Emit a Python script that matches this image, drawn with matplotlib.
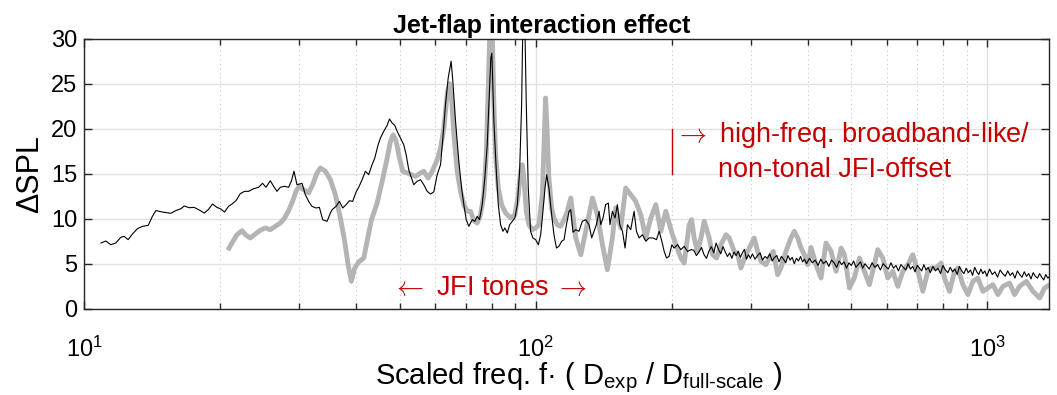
import numpy as np
import matplotlib
matplotlib.use('Agg')
import matplotlib.pyplot as plt
from matplotlib.ticker import MultipleLocator

plt.rcParams['font.family'] = ['Liberation Sans', 'DejaVu Sans']
plt.rcParams['mathtext.fontset'] = 'custom'
plt.rcParams['mathtext.rm'] = 'Liberation Sans'
plt.rcParams['mathtext.it'] = 'Liberation Sans:italic'
plt.rcParams['mathtext.bf'] = 'Liberation Sans:bold'

# thin black curve (measured), tonal part
f_meas_lo = [10.9, 11.17, 11.46, 11.76, 12.06, 12.27, 12.52, 12.8, 13.13, 13.47,
             13.87, 14.17, 14.42, 14.92, 15.57, 15.97, 16.39, 16.67, 17.1, 17.53,
             17.99, 18.46, 18.84, 19.25, 19.69, 20.03, 20.47, 20.89, 21.26, 21.7,
             22.18, 22.67, 23.14, 23.74, 24.35, 24.85, 25.29, 25.85, 26.29, 26.75,
             27.2, 27.81, 28.38, 28.77, 29.17, 29.62, 30.39, 30.9, 31.43, 31.98,
             32.64, 33.2, 33.77, 34.53, 35.12, 35.42, 36.15, 36.77, 37.4, 38.05,
             38.7, 39.35, 40.04, 40.57, 41.28, 41.98, 42.69, 43.3, 44.03, 44.8,
             45.33, 46.1, 46.91, 47.46, 48.12, 48.75, 49.36, 50.19, 51.05, 51.68,
             52.36, 53.09, 53.72, 54.66, 55.59, 56.53, 57.53, 58.5, 59.49, 60.54,
             61.58, 62.31, 63.15, 64.03, 65.0, 65.57, 66.47, 67.6, 68.55, 69.34,
             70.2, 71.14, 72.38, 73.35, 74.24, 75.12, 76.16, 77.18, 78.13, 78.78,
             79.58, 80.0, 80.83, 81.84, 82.67, 83.65, 84.63, 85.5, 86.55, 87.59,
             88.79, 89.98, 91.09, 92.16, 93.11, 93.7, 94.7, 95.35, 96.31, 97.46,
             98.6, 100.0, 101.4, 102.6, 103.8, 104.9, 105.8, 107.0, 108.5, 109.8,
             111.2, 112.6, 114.2, 115.6, 117.0, 118.6, 119.6, 121.0, 122.7, 124.7,
             126.9, 129.1, 131.3, 133.1, 134.7, 136.3, 138.2, 139.4, 141.0, 142.9,
             144.9, 146.1, 147.9, 149.9, 151.7, 153.6, 155.7, 157.8, 159.7, 162.4,
             165.2, 167.2, 169.5, 172.4, 175.4, 178.3, 182.0, 185.2, 187.7, 190.3,
             192.6, 194.9, 197.5, 200.3, 202.6, 206.2, 209.7, 213.3, 217.0, 220.8]
spl_meas_lo = [7.3, 7.52, 7.11, 7.3, 7.93, 8.04, 7.67, 8.3, 8.89, 9.15,
               9.26, 10.26, 10.9, 10.74, 10.6, 10.9, 11.11, 11.41, 11.22, 11.26,
               10.97, 10.63, 11.0, 11.63, 11.26, 11.11, 10.74, 11.37, 11.63, 12.0,
               12.78, 13.04, 13.04, 13.33, 13.49, 13.93, 13.49, 14.22, 13.6, 13.04,
               13.49, 13.6, 13.49, 14.16, 15.27, 13.78, 13.93, 12.67, 11.93, 11.37,
               11.19, 11.26, 9.89, 9.71, 10.63, 11.0, 11.37, 11.93, 11.19, 11.56,
               12.0, 11.93, 12.97, 13.49, 14.33, 15.27, 14.89, 15.82, 16.74, 18.22,
               18.97, 19.71, 20.38, 21.08, 20.63, 20.38, 19.71, 18.97, 18.22, 17.11,
               15.45, 14.52, 13.78, 14.16, 14.33, 13.78, 13.04, 12.74, 12.97, 14.89,
               16.0, 18.97, 22.67, 25.63, 27.5, 25.26, 20.82, 16.37, 13.41, 11.56,
               9.89, 9.15, 9.89, 9.71, 10.26, 9.89, 11.56, 14.52, 18.22, 22.67,
               27.86, 28.4, 20.82, 15.27, 11.56, 9.33, 8.6, 8.97, 8.41, 9.33,
               9.71, 10.08, 11.56, 15.27, 22.67, 32.0, 31.0, 22.67, 13.41, 8.6,
               7.86, 7.67, 7.11, 8.22, 10.82, 13.41, 14.89, 13.41, 10.45, 8.22,
               6.74, 6.93, 7.49, 7.67, 9.33, 10.82, 11.0, 8.5, 8.78, 8.6,
               9.71, 9.89, 9.33, 7.86, 8.6, 9.33, 10.82, 9.33, 10.08, 11.56,
               11.74, 9.33, 10.82, 10.08, 11.56, 9.33, 8.6, 6.74, 9.33, 8.78,
               10.82, 8.6, 7.86, 8.22, 7.49, 7.86, 7.86, 7.67, 8.6, 7.49,
               6.37, 5.63, 5.82, 7.11, 6.74, 7.11, 6.56, 6.93, 6.37, 6.56]

# thin black curve, high-frequency broadband part (noisy band)
f_meas_hi = [224, 227, 230, 233, 236, 239, 242, 245, 248, 251, 254, 257, 260,
             263, 266, 269, 272, 275, 278, 281, 284, 287, 290, 293, 296, 299,
             302, 306, 310, 314, 318, 322, 326, 330, 334, 338, 342, 346, 350,
             354, 358, 362, 366, 370, 374, 378, 382, 386, 390, 394, 398,
             404, 410, 416, 422, 428, 434, 440, 446, 452, 458, 464, 470, 476,
             482, 488, 494, 500, 506, 512, 518, 524, 530, 536, 542, 548,
             556, 564, 572, 580, 588, 596, 604, 612, 620, 628, 636, 644, 652,
             660, 668, 676, 684, 692, 700, 708, 716, 724, 732, 740, 748,
             758, 768, 778, 788, 798, 808, 818, 828, 838, 848, 858, 868, 878,
             888, 898, 908, 918, 928, 938, 948, 958, 968, 978, 988, 998,
             1012, 1026, 1040, 1054, 1068, 1082, 1096, 1110, 1124, 1138, 1152,
             1166, 1180, 1194, 1208, 1222, 1236, 1250, 1264, 1278, 1292, 1306,
             1320, 1334, 1348, 1362, 1376]
spl_meas_hi = [6.5, 5.9, 6.3, 6.8, 6.0, 5.6, 6.4, 6.9, 6.2, 7.3, 6.6, 6.1, 6.9,
               6.3, 5.8, 6.2, 5.6, 6.3, 5.9, 6.4, 5.7, 6.2, 6.6, 5.5, 6.0, 5.6,
               6.1, 5.5, 5.9, 6.2, 5.4, 5.8, 5.6, 6.1, 5.3, 5.7, 5.9, 5.2, 5.8,
               5.5, 5.1, 5.9, 5.4, 5.7, 5.0, 5.6, 5.3, 5.8, 5.2, 5.5, 5.0,
               5.6, 5.1, 5.4, 4.8, 5.5, 5.0, 5.3, 4.7, 5.4, 5.1, 4.6, 5.3, 4.9,
               5.2, 4.5, 5.1, 4.8, 5.3, 4.6, 4.9, 5.2, 4.5, 5.0, 4.7, 4.4,
               5.1, 4.6, 4.9, 4.3, 5.0, 4.7, 4.4, 5.1, 4.5, 4.8, 4.2, 4.9, 4.6,
               4.3, 5.0, 4.4, 4.7, 4.1, 4.8, 4.5, 4.2, 4.9, 4.3, 4.6, 4.0,
               4.7, 4.2, 4.5, 3.9, 4.8, 4.3, 4.0, 4.6, 4.1, 4.4, 3.8, 4.7, 4.2,
               3.9, 4.5, 4.0, 4.3, 3.7, 4.6, 4.1, 3.8, 4.4, 3.9, 4.2, 3.6,
               4.4, 3.8, 4.1, 3.5, 4.3, 3.9, 3.6, 4.2, 3.7, 4.0, 3.4,
               4.2, 3.8, 3.5, 4.1, 3.6, 3.9, 3.3, 4.0, 3.6, 3.4, 3.9,
               3.5, 3.2, 3.8, 3.4, 3.6]

# thick grey curve
f_ref = [20.82, 21.26, 21.81, 22.38, 22.84, 23.35, 23.95, 24.56, 25.2, 25.85,
         26.52, 27.2, 27.81, 28.38, 28.96, 29.47, 29.96, 30.63, 31.43, 32.08,
         32.81, 33.37, 34.24, 35.12, 36.02, 36.95, 37.78, 38.43, 39.08, 39.75,
         40.57, 41.63, 42.36, 43.3, 44.57, 45.73, 46.91, 47.71, 48.37, 49.11,
         49.94, 50.8, 51.95, 53.1, 54.2, 55.6, 56.53, 57.82, 59.02, 60.54,
         61.58, 62.64, 63.74, 64.5, 65.15, 65.91, 67.04, 68.2, 69.34, 70.56,
         71.77, 73.0, 74.24, 75.51, 76.8, 77.74, 78.54, 79.25, 80.17, 80.83,
         81.53, 82.67, 84.08, 85.81, 88.04, 89.98, 91.54, 92.63, 93.44, 94.2,
         95.35, 96.63, 98.3, 100.0, 101.7, 103.5, 104.5, 105.2, 105.9, 107.0,
         108.5, 109.8, 111.7, 113.6, 115.6, 117.5, 119.6, 122.7, 125.9, 129.1,
         133.6, 137.0, 140.6, 144.2, 147.9, 150.4, 154.3, 158.3, 162.4, 166.6,
         170.9, 175.4, 179.9, 184.6, 189.3, 194.2, 200.9, 209.7, 213.3, 218.8,
         221.5, 224.4, 228.3, 232.3, 236.2, 242.3, 246.5, 251.6, 257.2, 263.9,
         268.3, 275.3, 280.1, 284.8, 292.2, 299.8, 304.8, 310.2, 315.5, 323.6,
         329.1, 335.9, 343.5, 349.3, 358.4, 367.6, 373.9, 380.5, 387.0, 393.5,
         400.4, 407.2, 417.7, 428.5, 439.5, 451.0, 462.8, 474.8, 482.8, 495.3,
         507.8, 521.3, 534.5, 548.3, 562.5, 572.3, 587.1, 602.3, 617.9, 633.9,
         650.3, 667.1, 684.3, 702.0, 720.2, 738.8, 751.4, 770.9, 790.7, 804.2,
         825.0, 846.3, 860.9, 883.2, 906.1, 929.6, 953.7, 978.2, 1003.6, 1029.4,
         1056.1, 1083.4, 1120.6, 1149.6, 1179.3, 1220.4, 1262.8, 1306.2, 1340.0, 1374.6]
spl_ref = [6.49, 7.3, 8.22, 8.67, 8.16, 7.86, 8.3, 8.71, 8.97, 8.78,
           9.15, 9.52, 10.08, 10.89, 11.93, 13.04, 13.6, 13.22, 12.86, 13.78,
           15.08, 15.63, 15.27, 14.33, 12.67, 10.08, 7.49, 4.89, 3.04, 4.52,
           5.19, 5.63, 7.49, 9.89, 11.74, 14.16, 16.74, 18.6, 19.33, 18.6,
           16.74, 15.27, 15.08, 14.89, 14.71, 15.08, 15.27, 14.52, 15.27, 16.56,
           17.86, 20.08, 24.0, 25.0, 23.4, 19.33, 15.27, 13.04, 11.56, 10.82,
           10.82, 9.78, 9.52, 10.45, 12.67, 17.11, 24.52, 31.5, 30.5, 22.67,
           17.11, 13.41, 11.56, 10.63, 10.08, 10.45, 12.67, 15.27, 16.0, 14.52,
           10.82, 9.33, 8.78, 8.97, 9.33, 12.67, 18.97, 23.41, 20.45, 14.52,
           11.19, 10.08, 9.33, 9.15, 9.89, 10.8, 12.3, 7.86, 6.0, 8.6,
           12.3, 10.45, 7.11, 4.33, 7.86, 11.19, 8.97, 13.41, 12.67, 11.93,
           10.45, 7.86, 10.08, 11.56, 8.6, 10.82, 8.22, 5.63, 5.07, 9.33,
           9.9, 7.86, 6.37, 7.86, 9.71, 7.86, 6.0, 5.63, 7.11, 8.22,
           7.86, 6.37, 6.0, 4.52, 6.0, 7.11, 7.86, 6.37, 5.26, 4.89,
           5.63, 6.37, 3.78, 4.52, 6.37, 7.86, 8.6, 7.86, 6.74, 6.0,
           4.89, 6.8, 4.89, 3.41, 7.3, 6.37, 4.15, 6.74, 6.0, 2.3,
           3.41, 5.63, 4.15, 2.67, 4.89, 6.56, 5.63, 3.41, 4.15, 2.48,
           4.15, 4.89, 6.0, 4.15, 1.93, 4.15, 4.52, 4.52, 5.07, 3.41,
           1.93, 4.15, 4.52, 2.67, 1.56, 3.04, 3.41, 1.93, 2.3, 2.67,
           1.56, 2.48, 2.85, 1.56, 2.48, 3.04, 1.93, 1.19, 2.3, 2.67]

red = '#c40000'

fig = plt.figure(figsize=(10.57, 3.95), dpi=100)
ax = fig.add_axes([0.0795, 0.2185, 0.9129, 0.6835])

ax.plot(f_ref, spl_ref, color='#b4b4b4', lw=3.5, solid_joinstyle='round',
        solid_capstyle='butt', zorder=2)
ax.plot(f_meas_lo + f_meas_hi, spl_meas_lo + spl_meas_hi, color='k', lw=0.8, zorder=3)

ax.set_xscale('log')
ax.set_xlim(10, 1370)
ax.set_ylim(0, 30)
ax.yaxis.set_major_locator(MultipleLocator(5))

ax.grid(True, which='major', color='#e1e1e1', lw=1.0, ls='-')
ax.grid(True, which='minor', axis='x', color='#c4c4c4', lw=0.8, ls=(0, (1, 3)))
ax.set_axisbelow(True)
ax.tick_params(which='both', direction='in', top=True, right=True,
               color='#262626', labelsize=17)
ax.tick_params(axis='y', pad=5)
ax.tick_params(axis='x', pad=20)
ax.tick_params(which='major', length=6, width=1)
ax.tick_params(which='minor', length=4, width=1)
for s in ax.spines.values():
    s.set_color('#262626')
    s.set_linewidth(1)

t = ax.set_title('Jet-flap interaction effect', fontsize=18, fontweight='bold', pad=4)
t.set_x(0.474)
ax.set_ylabel('ΔSPL', fontsize=22)
ax.yaxis.set_label_coords(-0.056, 0.5)
ax.yaxis.label.set_va('center')
ax.set_xlabel('Scaled freq. f· ( D$_{\\mathrm{exp}}$ / D$_{\\text{full-scale}}$ )',
              fontsize=21)
ax.xaxis.set_label_coords(0.513, -0.257)
ax.xaxis.label.set_va('center')

ax.text(79.1, 2.3, r'$\leftarrow$ JFI tones $\rightarrow$', color=red,
        fontsize=19.5, ha='center', va='center', math_fontfamily='cm')
ax.plot([200, 200], [15, 20], color=red, lw=1.0)
ax.text(204, 19.3, r'$\rightarrow$ high-freq. broadband-like/', color=red,
        fontsize=19.5, ha='left', va='center', math_fontfamily='cm')
ax.text(252.8, 15.4, 'non-tonal JFI-offset', color=red,
        fontsize=19.5, ha='left', va='center')

fig.savefig('out.png', dpi=100)
